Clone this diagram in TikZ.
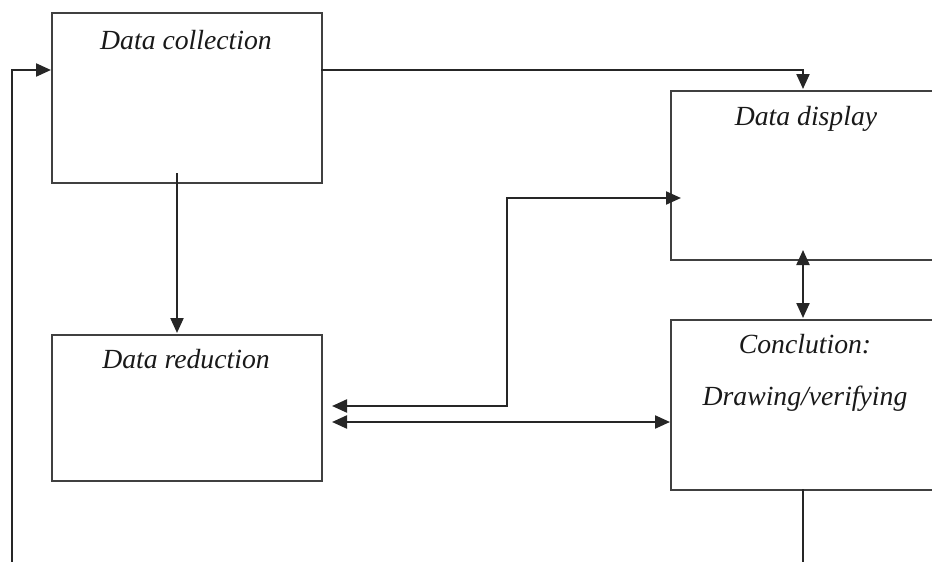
\documentclass[tikz,border=0pt]{standalone}
\usepackage{fontspec}
\setmainfont{Liberation Serif}
\usetikzlibrary{arrows.meta}
\begin{document}
\begin{tikzpicture}[x=1pt,y=-1pt,
  box/.style={draw=black!75, line width=2.2pt, rectangle, inner sep=0pt, anchor=north west},
  lbl/.style={font=\fontsize{27.7}{33}\selectfont\itshape, text=black!90, inner sep=0pt, anchor=base},
  conn/.style={draw=black!85, line width=2.2pt},
  tip/.style={-{Triangle[length=15pt,width=13pt]}},
  tips/.style={{Triangle[length=15pt,width=13pt]}-{Triangle[length=15pt,width=13pt]}}]
\useasboundingbox (0,0) rectangle (932,562);
\clip (0,0) rectangle (932,562);
% boxes
\node[box, minimum width=270pt, minimum height=170pt] (col) at (51,12) {};
\node[box, minimum width=280pt, minimum height=169pt] (disp) at (670,90) {};
\node[box, minimum width=270pt, minimum height=146pt] (red) at (51,334) {};
\node[box, minimum width=280pt, minimum height=170pt] (conc) at (670,319) {};
% labels
\node[lbl] (tcol) at (186,49) {Data collection};
\node[lbl] (tdisp) at (806,125) {Data display};
\node[lbl] (tred) at (186,368) {Data reduction};
\node[lbl] (tconc1) at (805,353) {Conclution:};
\node[lbl] (tconc2) at (805,405) {Drawing/verifying};
% coordinates
\coordinate (lb) at (12,565);
\coordinate (lt) at (12,70);
\coordinate (cr) at (321,70);
\coordinate (dtopc) at (803,70);
\coordinate (dtop) at (803,89);
\coordinate (cb) at (177,173);
\coordinate (rt) at (177,333);
\coordinate (ra1) at (332,406);
\coordinate (vx) at (507,406);
\coordinate (vy) at (507,198);
\coordinate (dl) at (681,198);
\coordinate (ra2) at (332,422);
\coordinate (cl) at (670,422);
\coordinate (db) at (803,250);
\coordinate (ct) at (803,318);
\coordinate (cbot) at (803,489);
\coordinate (cend) at (803,565);
% connectors
\draw[conn, tip] (lb) -- (lt) -- (col.west |- lt);
\draw[conn, tip] (cr) -- (dtopc) -- (dtop);
\draw[conn, tip] (cb) -- (rt);
\draw[conn, tips] (ra1) -- (vx) -- (vy) -- (dl);
\draw[conn, tips] (ra2) -- (cl);
\draw[conn, tips] (db) -- (ct);
\draw[conn] (cbot) -- (cend);
\end{tikzpicture}
\end{document}
